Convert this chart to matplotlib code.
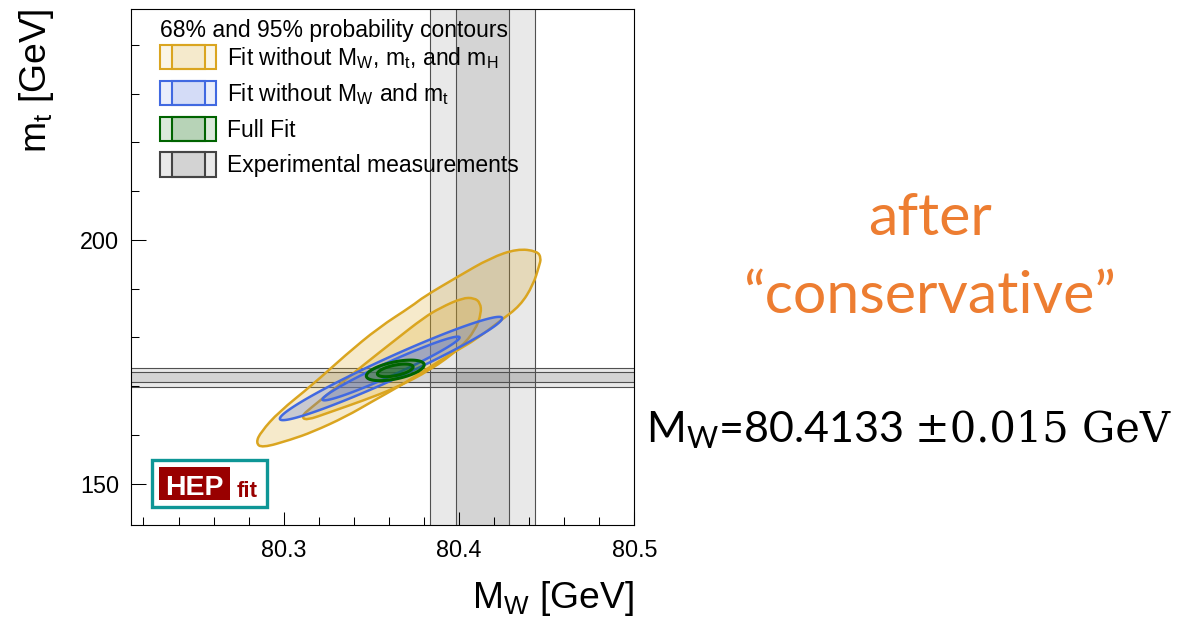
import numpy as np
import matplotlib
matplotlib.use("Agg")
import matplotlib.pyplot as plt
from matplotlib.path import Path
from matplotlib.patches import PathPatch, Rectangle
from matplotlib.legend_handler import HandlerBase
from matplotlib.ticker import MultipleLocator
import matplotlib.colors as mcolors

plt.rcParams['font.family'] = ['Liberation Sans', 'DejaVu Sans']

# ---------------------------------------------------------------- data
# Experimental measurements (central value, 1 sigma)
MW_EXP, MW_ERR = 80.4133, 0.015
MT_EXP, MT_ERR = 171.8, 1.0

# Probability levels of the 2D contours
PROB_LEVELS = [0.68, 0.95]

# Fit without MW, mt and mH: contour outlines (MW [GeV], mt [GeV])
YEL95_MW = [80.2841, 80.2875, 80.3040, 80.3165, 80.3353, 80.3512, 80.3666,
            80.3797, 80.3990, 80.4093, 80.4235, 80.4349, 80.4423, 80.4457,
            80.4468, 80.4446, 80.4332, 80.4178, 80.3990, 80.3797, 80.3734,
            80.3541, 80.3353, 80.3165, 80.2972, 80.2870]
YEL95_MT = [158.4, 157.3, 159.0, 160.6, 163.7, 167.0, 170.1,
            173.1, 177.4, 179.5, 183.4, 186.5, 190.8, 194.7,
            196.3, 197.7, 198.2, 196.3, 192.4, 188.3, 186.5,
            182.0, 176.4, 170.3, 164.7, 160.6]
YEL68_MW = [80.3102, 80.3125, 80.3267, 80.3450, 80.3637, 80.3837, 80.4007,
            80.4093, 80.4127, 80.4121, 80.4087, 80.4019, 80.3894, 80.3797,
            80.3637, 80.3450, 80.3267, 80.3154]
YEL68_MT = [163.9, 162.9, 164.7, 167.0, 169.6, 173.3, 177.8,
            181.5, 185.0, 187.1, 188.1, 188.1, 186.1, 184.0,
            179.5, 174.2, 168.8, 165.5]

# Fit without MW and mt: centre, widths and correlation
BLUE_CENTER = (80.3612, 173.62)
BLUE_SIGMA = (0.0259, 4.33)
BLUE_RHO = 0.972

# Full fit: centre, widths and correlation
GREEN_CENTER = (80.3636, 173.23)
GREEN_SIGMA = (0.00673, 0.862)
GREEN_RHO = 0.538

LEGEND_TITLE = '68% and 95% probability contours'
LEGEND_LABELS = [r'Fit without M$_\mathregular{W}$, m$_\mathregular{t}$, and m$_\mathregular{H}$',
                 r'Fit without M$_\mathregular{W}$ and m$_\mathregular{t}$',
                 'Full Fit',
                 'Experimental measurements']

YELLOW = '#DAA520'
BLUE = '#4169E1'
GREEN = '#006400'
GRAY_EDGE = '#444444'
ORANGE = '#ED7D31'

W_PX, H_PX = 1186, 617
FS = 16.5


def gauss_contour(center, sigma, rho, prob, n=240):
    """Contour of a correlated 2D Gaussian enclosing probability `prob`."""
    r = np.sqrt(-2.0 * np.log(1.0 - prob))
    t = np.linspace(0.0, 2.0 * np.pi, n)
    x = center[0] + r * sigma[0] * np.cos(t)
    y = center[1] + r * sigma[1] * (rho * np.cos(t) + np.sqrt(1 - rho ** 2) * np.sin(t))
    return Path(np.column_stack([x, y]), closed=True)


def smooth_outline(xs, ys):
    """Closed quadratic-Bezier path using the outline points as control points."""
    pts = np.column_stack([xs, ys])
    mids = (pts + np.roll(pts, -1, axis=0)) / 2.0
    verts = [mids[-1]]
    codes = [Path.MOVETO]
    for p, m in zip(pts, mids):
        verts += [p, m]
        codes += [Path.CURVE3, Path.CURVE3]
    verts.append(mids[-1])
    codes.append(Path.CLOSEPOLY)
    return Path(verts, codes)


def draw_fit(ax, paths, color, alpha, lw, z):
    for p in paths:
        ax.add_patch(PathPatch(p, facecolor=mcolors.to_rgba(color, alpha),
                               edgecolor='none', zorder=z))
    for p in paths:
        ax.add_patch(PathPatch(p, facecolor='none', edgecolor=color,
                               lw=lw, zorder=z + 0.1, joinstyle='round'))


class TwoBandHandler(HandlerBase):
    """Legend key: light outer box (95%) with a darker central box (68%)."""
    def create_artists(self, legend, orig_handle, xdescent, ydescent,
                       width, height, fontsize, trans):
        base = orig_handle.get_facecolor()[:3]
        edge = orig_handle.get_edgecolor()
        a_out, a_in = orig_handle.band_alphas
        x0, y0 = -xdescent, -ydescent
        outer = Rectangle((x0, y0), width, height, facecolor=(*base, a_out),
                          edgecolor=edge, lw=1.5, transform=trans)
        inner = Rectangle((x0 + 0.21 * width, y0), 0.59 * width, height,
                          facecolor=(*base, a_in), edgecolor=edge, lw=1.5,
                          transform=trans)
        return [outer, inner]


# ---------------------------------------------------------------- figure
fig = plt.figure(figsize=(W_PX / 100, H_PX / 100), dpi=100)
ax = fig.add_axes([131 / W_PX, 1 - 525 / H_PX, (634.4 - 131) / W_PX, (525 - 8.5) / H_PX])
ax.set_xlim(80.2129, 80.5)
ax.set_ylim(141.5, 247.5)

# experimental bands
for k in (2, 1):
    ax.axvspan(MW_EXP - k * MW_ERR, MW_EXP + k * MW_ERR, color='black',
               alpha=0.085, lw=0, zorder=0.5)
    ax.axhspan(MT_EXP - k * MT_ERR, MT_EXP + k * MT_ERR, color='black',
               alpha=0.085, lw=0, zorder=0.5)
    for s in (-1, 1):
        ax.axvline(MW_EXP + s * k * MW_ERR, color='#505050', lw=0.8, zorder=0.6)
        ax.axhline(MT_EXP + s * k * MT_ERR, color='#505050', lw=0.8, zorder=0.6)

# fits
draw_fit(ax, [smooth_outline(YEL95_MW, YEL95_MT), smooth_outline(YEL68_MW, YEL68_MT)],
         YELLOW, 0.23, 1.8, 1)
draw_fit(ax, [gauss_contour(BLUE_CENTER, BLUE_SIGMA, BLUE_RHO, p) for p in PROB_LEVELS[::-1]],
         BLUE, 0.25, 1.8, 2)
draw_fit(ax, [gauss_contour(GREEN_CENTER, GREEN_SIGMA, GREEN_RHO, p) for p in PROB_LEVELS[::-1]],
         GREEN, 0.33, 2.2, 3)

# axes style
ax.xaxis.set_major_locator(MultipleLocator(0.1))
ax.xaxis.set_minor_locator(MultipleLocator(0.02))
ax.yaxis.set_major_locator(MultipleLocator(50))
ax.yaxis.set_minor_locator(MultipleLocator(10))
ax.tick_params(which='both', direction='in', width=0.75, labelsize=16.8, color='black')
ax.tick_params(axis='x', which='major', length=9.5, pad=9.8)
ax.tick_params(axis='y', which='major', length=10.5, pad=8.3)
ax.tick_params(which='minor', length=5.5)
ax.xaxis.set_major_formatter(plt.FuncFormatter(lambda v, _: f'{v:.1f}'))
for sp in ax.spines.values():
    sp.set_linewidth(0.8)

# legend: title line, then one key per fit
ax.text(0.0576, 0.9454, LEGEND_TITLE, transform=ax.transAxes, ha='left',
        va='baseline', fontsize=FS, zorder=10)
handles = []
for col, alphas, edge in [(YELLOW, (0.11, 0.13), YELLOW), (BLUE, (0.11, 0.13), BLUE),
                          (GREEN, (0.14, 0.16), GREEN), ('black', (0.085, 0.09), GRAY_EDGE)]:
    h = Rectangle((0, 0), 1, 1, facecolor=col, edgecolor=edge)
    h.band_alphas = alphas
    handles.append(h)
leg = ax.legend(handles, LEGEND_LABELS, handler_map={h: TwoBandHandler() for h in handles},
                loc='upper left', bbox_to_anchor=(0.0576, 0.9299), borderpad=0,
                borderaxespad=0, frameon=False, fontsize=FS,
                handlelength=2.455, handleheight=1.28,
                labelspacing=0.44, handletextpad=0.47)
leg.set_zorder(10)

# HEPfit logo
ax.add_patch(Rectangle((0.0423, 0.0343), 0.2285, 0.0915, transform=ax.transAxes,
                       facecolor='white', edgecolor='#0E9696', lw=2.4, zorder=9))
ax.add_patch(Rectangle((0.0562, 0.0484), 0.1405, 0.0645, transform=ax.transAxes,
                       facecolor='#990000', edgecolor='none', zorder=9.5))
ax.text(0.1265, 0.0581, 'HEP', transform=ax.transAxes, ha='center', va='baseline',
        color='white', fontsize=20.5, fontweight='bold', zorder=10)
ax.text(0.2100, 0.0548, 'fit', transform=ax.transAxes, ha='left', va='baseline',
        color='#990000', fontsize=16, fontweight='bold', zorder=10)

# axis titles
fig.text(634 / W_PX, 1 - 608.3 / H_PX, r'M$_\mathregular{W}$ [GeV]', ha='right',
         va='baseline', fontsize=26.8)
fig.text(0.0305, 0.7515, r'm$_\mathregular{t}$ [GeV]', rotation=90, ha='center',
         va='bottom', fontsize=26.8)

# annotation on the right
fig.text(930 / W_PX, 1 - 235 / H_PX, 'after', ha='center', va='baseline',
         color=ORANGE, family='Lato', fontsize=42.5)
fig.text(930 / W_PX, 1 - 312.7 / H_PX, '\u201cconservative\u201d', ha='center',
         va='baseline', color=ORANGE, family='Lato', fontsize=42.5)

t1 = fig.text(646 / W_PX, 1 - 441.7 / H_PX, r'M$_\mathregular{W}$=80.4133',
              ha='left', va='baseline', family='Lato', fontsize=31)
renderer = fig.canvas.get_renderer()
bb = t1.get_window_extent(renderer)
fig.text((bb.x1 + 12) / W_PX, 1 - 441.7 / H_PX, '\u00b10.015 GeV', ha='left',
         va='baseline', family='DejaVu Serif', fontsize=30)

fig.savefig('out.png', dpi=100)
